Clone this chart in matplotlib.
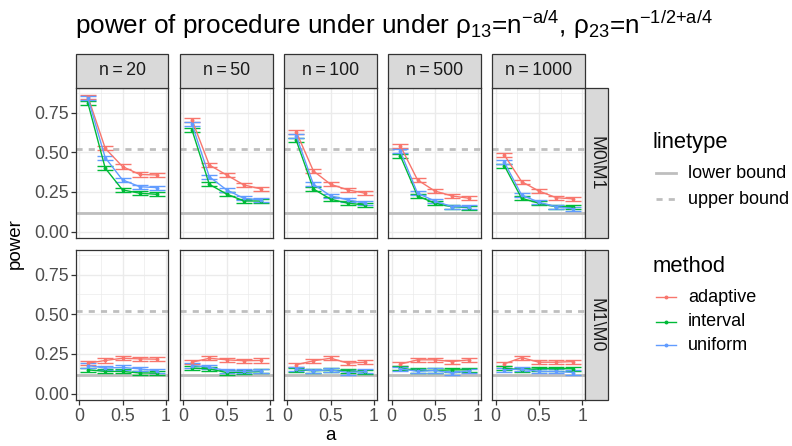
import numpy as np
import matplotlib
matplotlib.use('Agg')
import matplotlib.pyplot as plt
from matplotlib.lines import Line2D
from matplotlib.patches import Rectangle

plt.rcParams.update({
    'font.family': ['Liberation Sans', 'DejaVu Sans'],
    'mathtext.fontset': 'custom',
    'mathtext.rm': 'Liberation Sans',
    'mathtext.it': 'Liberation Sans',
})

# ── data ───────────────────────────────────────────────────
a_vals = [0.1, 0.3, 0.5, 0.7, 0.9]
n_vals = [20, 50, 100, 500, 1000]
row_labels = ['M0\\M1', 'M1\\M0']
methods = ['adaptive', 'interval', 'uniform']
lower_bound = 0.12
upper_bound = 0.52
err_half = 0.013

adaptive_m0m1 = [[0.85, 0.525, 0.41, 0.36, 0.357],
                 [0.703, 0.42, 0.357, 0.294, 0.269],
                 [0.63, 0.382, 0.298, 0.263, 0.242],
                 [0.542, 0.326, 0.256, 0.225, 0.21],
                 [0.483, 0.315, 0.256, 0.214, 0.206]]
interval_m0m1 = [[0.81, 0.40, 0.263, 0.242, 0.235],
                 [0.64, 0.298, 0.237, 0.193, 0.193],
                 [0.577, 0.269, 0.204, 0.179, 0.168],
                 [0.479, 0.225, 0.179, 0.157, 0.151],
                 [0.416, 0.21, 0.179, 0.157, 0.157]]
uniform_m0m1 = [[0.84, 0.466, 0.326, 0.283, 0.277],
                [0.676, 0.346, 0.263, 0.21, 0.20],
                [0.605, 0.298, 0.225, 0.20, 0.179],
                [0.508, 0.242, 0.193, 0.157, 0.157],
                [0.437, 0.231, 0.185, 0.157, 0.143]]

adaptive_m1m0 = [[0.192, 0.209, 0.223, 0.219, 0.217],
                 [0.198, 0.223, 0.213, 0.207, 0.209],
                 [0.182, 0.207, 0.223, 0.192, 0.198],
                 [0.186, 0.213, 0.213, 0.202, 0.213],
                 [0.188, 0.227, 0.198, 0.198, 0.202]]
interval_m1m0 = [[0.15, 0.14, 0.14, 0.13, 0.13],
                 [0.161, 0.156, 0.133, 0.135, 0.14],
                 [0.15, 0.144, 0.147, 0.144, 0.135],
                 [0.161, 0.146, 0.146, 0.15, 0.15],
                 [0.161, 0.15, 0.157, 0.157, 0.157]]
uniform_m1m0 = [[0.177, 0.161, 0.165, 0.156, 0.144],
                [0.177, 0.167, 0.144, 0.14, 0.144],
                [0.157, 0.144, 0.15, 0.133, 0.14],
                [0.157, 0.14, 0.146, 0.13, 0.144],
                [0.15, 0.155, 0.14, 0.14, 0.133]]

series = {
    0: {'adaptive': adaptive_m0m1, 'interval': interval_m0m1, 'uniform': uniform_m0m1},
    1: {'adaptive': adaptive_m1m0, 'interval': interval_m1m0, 'uniform': uniform_m1m0},
}

COLORS = {'adaptive': '#F8766D', 'interval': '#00BA38', 'uniform': '#619CFF'}
BOUND_C = '#BEBEBE'
GRID_C = '#EBEBEB'
DARK = '#333333'

# ── layout (pixels) ────────────────────────────────────────
W, H = 792, 446
fig = plt.figure(figsize=(W / 100, H / 100), dpi=100)


def fx(x):
    return x / W


def fy(y):
    return 1 - y / H


P_LEFT, P_W, P_GAP = 76, 92.4, 11.7
ROW_TOP = [88, 250]
P_H = 150.3
STRIP_TOP = 53.5
TICK_FS = 12.8

for r in range(2):
    for c in range(5):
        x0 = P_LEFT + c * (P_W + P_GAP)
        ax = fig.add_axes([fx(x0), fy(ROW_TOP[r] + P_H), P_W / W, P_H / H])
        ax.set_xlim(-0.038, 1.031)
        ax.set_ylim(-0.042, 0.905)
        ax.set_xticks([0, 0.5, 1])
        ax.set_xticks([0.25, 0.75], minor=True)
        ax.set_yticks([0, 0.25, 0.5, 0.75])
        ax.set_yticks([0.125, 0.375, 0.625, 0.875], minor=True)
        ax.grid(which='major', color=GRID_C, lw=1.0)
        ax.grid(which='minor', color=GRID_C, lw=0.5)
        ax.set_axisbelow(True)
        for s in ax.spines.values():
            s.set_color(DARK)
            s.set_linewidth(0.9)
        ax.tick_params(which='major', length=3.3, width=0.9, color=DARK,
                       labelsize=TICK_FS, labelcolor='#4D4D4D', pad=2)
        ax.tick_params(which='minor', length=0)
        if c == 0:
            ax.set_yticklabels(['0.00', '0.25', '0.50', '0.75'])
        else:
            ax.tick_params(axis='y', labelleft=False, length=0)
        if r == 0:
            ax.tick_params(axis='x', labelbottom=False, length=0)
        else:
            ax.set_xticklabels(['0', '0.5', '1'])

        ax.axhline(lower_bound, color=BOUND_C, lw=2.0, zorder=2)
        ax.axhline(upper_bound, color=BOUND_C, lw=2.0, ls=(0, (2.2, 2.2)), zorder=2)

        for m in methods:
            vals = series[r][m][c]
            ax.errorbar(a_vals, vals, yerr=err_half, color=COLORS[m], lw=1.0,
                        elinewidth=1.0, capsize=5.6, capthick=1.0,
                        marker='o', ms=1.8, zorder=3)

# strips on top
for c, n in enumerate(n_vals):
    x0 = P_LEFT + c * (P_W + P_GAP)
    fig.add_artist(Rectangle((fx(x0), fy(ROW_TOP[0])), P_W / W,
                             (ROW_TOP[0] - STRIP_TOP) / H, transform=fig.transFigure,
                             facecolor='#D9D9D9', edgecolor=DARK, lw=0.9))
    fig.text(fx(x0 + P_W / 2), fy((ROW_TOP[0] + STRIP_TOP) / 2), f'n\u2009=\u2009{n}',
             ha='center', va='center', fontsize=12.7, color='#1A1A1A')

# strips on right
sx0 = P_LEFT + 4 * (P_W + P_GAP) + P_W
for r, lab in enumerate(row_labels):
    fig.add_artist(Rectangle((fx(sx0), fy(ROW_TOP[r] + P_H)), 23 / W, P_H / H,
                             transform=fig.transFigure, facecolor='#D9D9D9',
                             edgecolor=DARK, lw=0.9))
    fig.text(fx(sx0 + 11.5), fy(ROW_TOP[r] + P_H / 2), lab, rotation=-90,
             ha='center', va='center', fontsize=12.7, color='#1A1A1A')

# title and axis labels
fig.text(fx(75), fy(34),
         'power of procedure under under ρ$_{13}$=n$^{-a/4}$, ρ$_{23}$=n$^{-1/2{+}a/4}$',
         ha='left', va='baseline', fontsize=18.8, color='black')
fig.text(fx(15), fy(244), 'power', rotation=90, ha='center', va='center',
         fontsize=13.5, color='black')
fig.text(fx(330), fy(436), 'a', ha='center', va='center', fontsize=13.5, color='black')

# legends (manual, ggplot style)
KX0, KX1, TX = 656, 676, 688
fig.text(fx(653), fy(143), 'linetype', ha='left', va='center', fontsize=15.8)
fig.add_artist(Line2D([fx(KX0), fx(KX1)], [fy(173), fy(173)], color=BOUND_C, lw=2.0,
                      transform=fig.transFigure))
fig.add_artist(Line2D([fx(KX0), fx(KX1)], [fy(199), fy(199)], color=BOUND_C, lw=2.0,
                      ls=(0, (2.2, 2.2)), transform=fig.transFigure))
fig.text(fx(TX), fy(173), 'lower bound', ha='left', va='center', fontsize=13)
fig.text(fx(TX), fy(199), 'upper bound', ha='left', va='center', fontsize=13)

fig.text(fx(653), fy(266), 'method', ha='left', va='center', fontsize=15.8)
for i, m in enumerate(methods):
    yy = [297, 321.5, 345][i]
    fig.add_artist(Line2D([fx(KX0), fx(KX1)], [fy(yy), fy(yy)], color=COLORS[m], lw=1.0,
                          transform=fig.transFigure))
    fig.add_artist(Line2D([fx((KX0 + KX1) / 2)], [fy(yy)], color=COLORS[m], marker='o',
                          ms=1.8, transform=fig.transFigure))
    fig.text(fx(TX), fy(yy), m, ha='left', va='center', fontsize=13)

fig.savefig('out.png', dpi=100, facecolor='white')
